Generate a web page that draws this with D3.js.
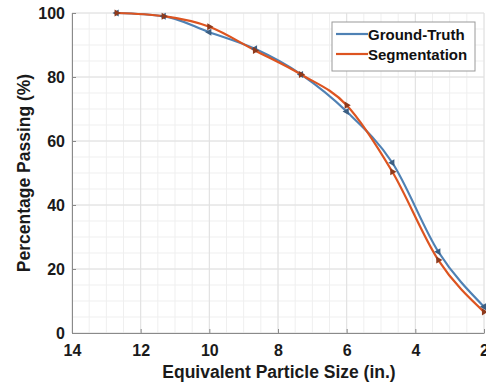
<!DOCTYPE html>
<html>
<head>
<meta charset="utf-8">
<script src="https://cdn.jsdelivr.net/npm/d3@7"></script>
<style>
  html, body { margin: 0; padding: 0; background: #fff; }
  svg { display: block; font-family: "Liberation Sans", Arial, Helvetica, sans-serif; }
</style>
</head>
<body>
<svg id="chart" width="486" height="387"></svg>
<script>
// Sieve sizes (in.) and cumulative percentage passing
const sizes        = [12.7, 11.33, 10, 8.67, 7.33, 6, 4.67, 3.33, 2];
const groundTruth  = [100, 99.0, 94.0, 88.8, 80.8, 69.2, 53.2, 25.4, 8.2];
const segmentation = [100, 99.0, 95.7, 88.3, 80.8, 71.2, 50.4, 22.8, 6.6];
const xTicks = [14, 12, 10, 8, 6, 4, 2];
const yTicks = [0, 20, 40, 60, 80, 100];
const seriesNames = ["Ground-Truth", "Segmentation"];

const svg = d3.select("#chart");
const m = { left: 72, top: 13, right: 2, bottom: 54 };
const W = 486, H = 387;
const iw = W - m.left - m.right, ih = H - m.top - m.bottom;

const x = d3.scaleLinear().domain([14, 2]).range([0, iw]);
const y = d3.scaleLinear().domain([0, 100]).range([ih, 0]);

const g = svg.append("g").attr("transform", `translate(${m.left},${m.top})`);

// minor grid
const minorX = d3.range(2, 14.01, 0.5);
const minorY = d3.range(0, 100.01, 5);
g.append("g").selectAll("line").data(minorX).join("line")
  .attr("x1", d => x(d)).attr("x2", d => x(d)).attr("y1", 0).attr("y2", ih)
  .attr("stroke", "#efefef").attr("stroke-width", 1);
g.append("g").selectAll("line").data(minorY).join("line")
  .attr("y1", d => y(d)).attr("y2", d => y(d)).attr("x1", 0).attr("x2", iw)
  .attr("stroke", "#efefef").attr("stroke-width", 1);
// major grid
g.append("g").selectAll("line").data(xTicks).join("line")
  .attr("x1", d => x(d)).attr("x2", d => x(d)).attr("y1", 0).attr("y2", ih)
  .attr("stroke", "#e0e0e0").attr("stroke-width", 1);
g.append("g").selectAll("line").data(yTicks).join("line")
  .attr("y1", d => y(d)).attr("y2", d => y(d)).attr("x1", 0).attr("x2", iw)
  .attr("stroke", "#e0e0e0").attr("stroke-width", 1);

// axes with inward ticks
const xAxis = g.append("g").attr("transform", `translate(0,${ih})`)
  .call(d3.axisBottom(x).tickValues(xTicks).tickSizeInner(-4).tickSizeOuter(0).tickPadding(12));
const yAxis = g.append("g")
  .call(d3.axisLeft(y).tickValues(yTicks).tickSizeInner(-4).tickSizeOuter(0).tickPadding(7));
[xAxis, yAxis].forEach(a => {
  a.select(".domain").attr("stroke", "#8a8a8a");
  a.selectAll(".tick line").attr("stroke", "#8a8a8a");
  a.selectAll(".tick text").attr("fill", "#1a1a1a")
    .attr("font-size", 16).attr("font-weight", "bold")
    .attr("font-family", "Liberation Sans, Arial, sans-serif");
});

// axis titles
svg.append("text")
  .attr("x", m.left + iw / 2 + 1).attr("y", 378)
  .attr("text-anchor", "middle").attr("font-size", 17.5).attr("font-weight", "bold")
  .attr("fill", "#1a1a1a").text("Equivalent Particle Size (in.)");
svg.append("text")
  .attr("transform", `translate(30,${m.top + ih / 2}) rotate(-90)`)
  .attr("text-anchor", "middle").attr("font-size", 17.5).attr("font-weight", "bold")
  .attr("fill", "#1a1a1a").text("Percentage Passing (%)");

const colors = ["#4f81b4", "#dd5420"];
const markerColors = ["#3b5e82", "#8e3a1c"];
const series = [groundTruth, segmentation];

const line = d3.line().x(d => x(d[0])).y(d => y(d[1])).curve(d3.curveMonotoneX);

series.forEach((vals, i) => {
  const pts = sizes.map((s, k) => [s, vals[k]]);
  g.append("path").datum(pts)
    .attr("fill", "none").attr("stroke", colors[i]).attr("stroke-width", 2.2)
    .attr("d", line);
});

// markers: left-pointing triangles for ground truth, right-pointing for segmentation
const tri = d3.symbol().type(d3.symbolTriangle).size(22);
series.forEach((vals, i) => {
  g.append("g").selectAll("path").data(sizes.map((s, k) => [s, vals[k]])).join("path")
    .attr("d", tri)
    .attr("transform", d => `translate(${x(d[0])},${y(d[1])}) rotate(${i === 0 ? -90 : 90})`)
    .attr("fill", markerColors[i]);
});

// legend
const lg = svg.append("g").attr("transform", "translate(332,22)");
lg.append("rect").attr("width", 143).attr("height", 49)
  .attr("fill", "#fff").attr("stroke", "#9a9a9a").attr("stroke-width", 1);
seriesNames.forEach((name, i) => {
  const yy = 12 + i * 20;
  lg.append("line").attr("x1", 4).attr("x2", 36).attr("y1", yy).attr("y2", yy)
    .attr("stroke", colors[i]).attr("stroke-width", 2.2);
  lg.append("text").attr("x", 36).attr("y", yy + 5.5)
    .attr("font-size", 15).attr("font-weight", "bold").attr("fill", "#111")
    .text(name);
});
</script>
</body>
</html>
